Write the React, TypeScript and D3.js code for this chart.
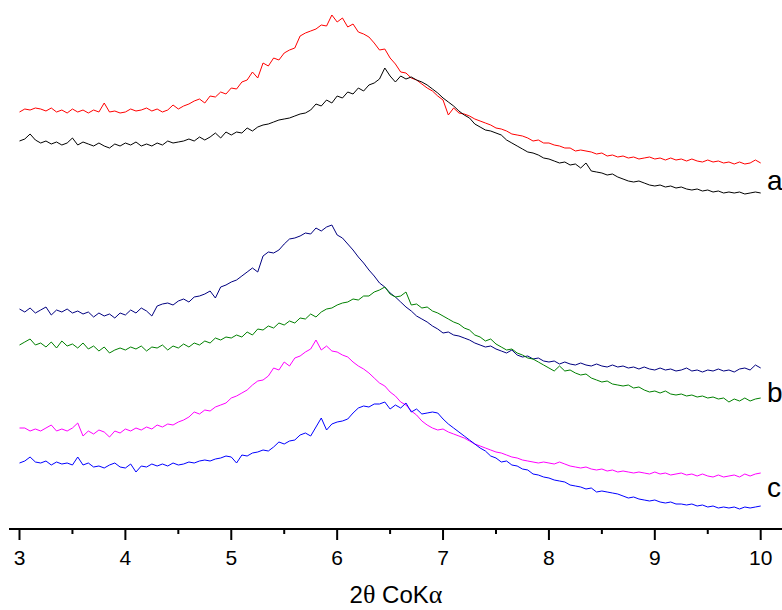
import React from "react";
import * as d3 from "d3";

// 2θ sampling (degrees), 0.05° step from 3 to 10
const X_START = 3;
const X_STEP = 0.05;

// Intensities (a.u., stacked with offsets as in the figure)
const seriesA1 = [
  488,491,490,492,491,489,492,488,490,487,491,488,490,487,490,488,497,488,489,487,
  488,491,489,490,492,489,491,488,490,495,491,494,496,499,501,497,504,503,508,506,
  512,511,518,520,528,522,537,534,542,540,547,550,552,564,567,569,571,575,574,585,
  578,582,573,576,568,566,563,557,550,551,542,536,528,527,522,520,516,512,509,504,
  500,485,492,487,486,484,481,479,477,475,472,471,469,466,465,464,462,459,460,457,
  457,455,454,452,452,449,450,449,448,446,447,444,445,443,444,442,443,441,442,443,
  441,442,440,442,440,441,439,441,439,438,440,438,439,437,438,436,438,436,437,440,437,
];
const seriesA2 = [
  459,461,466,460,457,459,456,458,455,457,462,455,458,456,454,457,454,452,456,454,
  457,455,458,454,456,454,457,455,459,457,458,459,461,459,463,460,463,467,462,468,
  465,468,467,472,469,473,475,476,478,480,481,482,484,486,487,490,496,494,500,497,
  504,502,508,506,512,509,515,517,521,532,524,518,524,521,523,520,518,515,511,507,
  502,498,494,489,485,482,476,473,470,469,467,465,460,457,454,451,448,447,445,442,
  441,439,437,438,435,436,432,437,429,428,427,425,426,423,421,419,418,419,417,415,
  414,415,413,414,412,413,411,410,411,409,410,408,409,407,408,407,408,406,407,408,407,
];
const seriesB1 = [
  291,288,292,287,290,293,285,290,288,291,287,289,286,288,283,287,284,286,282,287,
  285,290,287,292,289,284,294,296,297,295,299,301,298,303,304,306,309,302,313,315,
  318,320,324,328,332,328,344,348,347,350,356,361,362,364,367,366,372,369,373,375,
  365,362,356,350,343,337,330,324,317,313,307,303,298,293,289,284,281,278,274,271,
  267,268,265,264,262,260,257,255,253,254,251,249,247,250,245,243,244,241,242,239,
  238,239,236,238,236,235,237,235,234,236,234,233,235,233,234,232,233,231,233,231,
  230,232,230,231,229,230,232,229,230,228,230,229,231,229,230,228,231,232,230,235,232,
];
const seriesB2 = [
  255,258,261,255,257,253,258,252,259,254,256,252,257,251,254,249,253,247,250,252,
  250,253,251,254,249,253,252,255,250,254,252,256,253,257,255,259,257,262,260,263,
  262,265,263,268,265,271,270,274,272,277,275,279,277,282,281,286,283,288,291,292,
  295,297,298,301,300,304,304,308,310,313,306,303,304,308,295,296,292,293,289,287,
  284,281,278,276,272,270,265,263,259,261,256,253,250,251,247,245,242,241,238,235,
  232,229,234,229,230,227,225,226,222,220,218,219,216,215,214,215,212,213,210,208,
  209,207,209,206,205,206,204,205,203,204,202,203,201,202,198,201,199,202,199,201,202,
];
const seriesC1 = [
  172,172,169,171,169,172,175,169,171,169,172,177,164,169,166,170,168,163,169,167,
  171,169,172,170,173,171,175,173,176,175,178,180,183,188,186,190,189,193,195,197,
  202,204,207,210,215,219,220,224,232,230,238,234,242,244,248,251,260,250,254,249,
  248,245,243,238,234,231,227,222,217,214,208,204,198,195,189,185,179,175,172,170,
  171,168,166,164,162,159,156,154,152,150,148,147,145,143,142,140,139,138,137,138,
  137,136,138,136,134,133,132,133,131,130,131,129,130,128,129,128,127,128,127,126,
  128,126,127,125,126,127,125,126,124,126,124,123,125,123,124,125,123,126,124,126,127,
];
const seriesC2 = [
  137,139,143,138,137,139,135,138,136,137,135,143,135,137,133,134,132,135,137,133,
  132,136,128,134,133,136,134,136,134,137,135,136,138,137,139,140,139,141,142,144,
  143,137,145,144,147,148,150,149,153,158,156,159,160,165,167,164,173,182,170,176,
  178,179,181,187,192,194,193,196,196,198,191,195,192,197,188,191,186,187,188,187,
  181,176,172,168,164,160,156,152,149,144,142,138,139,135,134,131,130,126,125,123,
  122,120,119,118,115,114,113,111,112,108,109,108,107,106,104,102,103,101,100,99,
  100,98,97,98,96,96,95,96,94,95,93,94,92,93,92,93,91,93,92,93,94,
];

const seriesList = [
  { values: seriesA1, color: "#ff0000" },
  { values: seriesA2, color: "#000000" },
  { values: seriesB1, color: "#000080" },
  { values: seriesB2, color: "#008000" },
  { values: seriesC1, color: "#ff00ff" },
  { values: seriesC2, color: "#0000ff" },
];

const sampleLabels = ["a", "b", "c"];
const sampleLabelLevels = [410, 198, 103]; // intensity level of each label baseline

const majorTicks = [3, 4, 5, 6, 7, 8, 9, 10];
const minorTicks = [3.5, 4.5, 5.5, 6.5, 7.5, 8.5, 9.5];
const xTitleParts = [
  { t: "2", greek: false },
  { t: "θ", greek: true },
  { t: " CoK", greek: false },
  { t: "α", greek: true },
];

const W = 782;
const H = 610;
const AXIS_Y = 529;

export default function App() {
  const x = d3.scaleLinear().domain([3, 10]).range([19.5, 760.7]);
  const y = d3.scaleLinear().domain([0, 600]).range([600, 0]);

  const line = d3
    .line<number>()
    .x((_, i) => x(X_START + i * X_STEP))
    .y((v) => y(v));

  const font = "Arial, 'Liberation Sans', Helvetica, sans-serif";
  const serif = "'Liberation Serif', 'Times New Roman', serif";

  return (
    <svg
      width={W}
      height={H}
      style={{ position: "absolute", left: 0, top: 0, display: "block", background: "#fff" }}
    >
      {seriesList.map((s, i) => (
        <path
          key={i}
          d={line(s.values) || ""}
          fill="none"
          stroke={s.color}
          strokeWidth={1}
          strokeLinejoin="round"
        />
      ))}

      {sampleLabels.map((t, i) => (
        <text
          key={t}
          x={767}
          y={y(sampleLabelLevels[i])}
          fontFamily={font}
          fontSize={28}
          fill="#000"
        >
          {t}
        </text>
      ))}

      <line x1={9} x2={W} y1={AXIS_Y} y2={AXIS_Y} stroke="#000" strokeWidth={2} />
      {majorTicks.map((t) => (
        <g key={t}>
          <line
            x1={x(t)}
            x2={x(t)}
            y1={AXIS_Y}
            y2={AXIS_Y + 11}
            stroke="#000"
            strokeWidth={2}
          />
          <text
            x={x(t)}
            y={565}
            textAnchor="middle"
            fontFamily={font}
            fontSize={21}
            fill="#000"
          >
            {String(t)}
          </text>
        </g>
      ))}
      {minorTicks.map((t) => (
        <line
          key={t}
          x1={x(t)}
          x2={x(t)}
          y1={AXIS_Y}
          y2={AXIS_Y + 5}
          stroke="#000"
          strokeWidth={2}
        />
      ))}
      <text
        x={396}
        y={603}
        textAnchor="middle"
        fontFamily={font}
        fontSize={24}
        fill="#000"
      >
        {xTitleParts.map((p, i) => (
          <tspan key={i} fontFamily={p.greek ? serif : font} fontSize={p.greek ? 26 : 24}>
            {p.t}
          </tspan>
        ))}
      </text>
    </svg>
  );
}
